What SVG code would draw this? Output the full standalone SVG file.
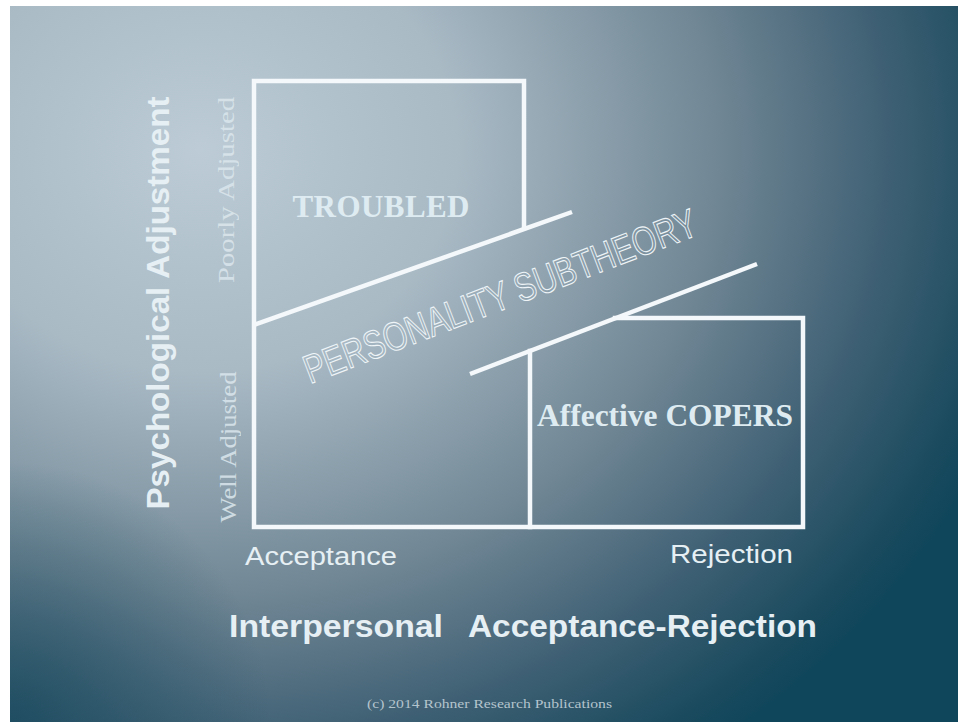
<svg xmlns="http://www.w3.org/2000/svg" width="958" height="723" viewBox="0 0 958 723">
<defs>
<radialGradient id="bg" gradientUnits="userSpaceOnUse" cx="200" cy="150" r="860" gradientTransform="translate(200 150) scale(1 0.86) translate(-200 -150)">
<stop offset="0" stop-color="#bccbd5"/>
<stop offset="0.3" stop-color="#a9bac5"/>
<stop offset="0.6" stop-color="#718795"/>
<stop offset="0.8" stop-color="#3f6074"/>
<stop offset="0.95" stop-color="#1a4a5e"/>
<stop offset="1" stop-color="#10465b"/>
</radialGradient>
<radialGradient id="bl" gradientUnits="userSpaceOnUse" cx="10" cy="722" r="260">
<stop offset="0" stop-color="#15475c" stop-opacity="0.75"/>
<stop offset="1" stop-color="#15475c" stop-opacity="0"/>
</radialGradient>
<style>
.ln{stroke:#f4f8fa;stroke-width:4.5;fill:none;stroke-linecap:square;stroke-linejoin:miter}
.lbl{font-family:"Liberation Serif",serif;font-weight:bold;fill:#deecf2}
.axis{font-family:"Liberation Sans",Arial,sans-serif;font-weight:bold;fill:#e6f0f4}
.end{font-family:"Liberation Sans",Arial,sans-serif;fill:#e6f0f4}
.side{font-family:"Liberation Serif",serif;fill:#dbe6ec;opacity:0.85}
</style>
</defs>
<rect x="0" y="0" width="958" height="723" fill="#ffffff"/>
<rect x="10" y="6" width="948" height="716" fill="url(#bg)"/>
<rect x="10" y="6" width="948" height="716" fill="url(#bl)"/>

<g id="connectors">
<polyline class="ln" points="524,228 524,81 254,81 254,527 803,527 803,318 615,318"/>
<line class="ln" x1="530" y1="527" x2="530" y2="351"/>
<line class="ln" x1="254" y1="325" x2="572" y2="212" style="stroke-linecap:butt"/>
<line class="ln" x1="470" y1="374" x2="757" y2="264" style="stroke-linecap:butt"/>
</g>

<g id="troubled">
<text class="lbl" x="381" y="217" font-size="31" text-anchor="middle" textLength="177">TROUBLED</text>
</g>
<g id="copers">
<text class="lbl" x="665" y="426" font-size="31" text-anchor="middle" textLength="256" lengthAdjust="spacingAndGlyphs">Affective COPERS</text>
</g>
<g id="subtheory">
<text x="505" y="309" font-family="'Liberation Sans',Arial,sans-serif" font-size="40" text-anchor="middle" textLength="418" lengthAdjust="spacingAndGlyphs" fill="none" stroke="#eef4f7" stroke-width="1.1" transform="rotate(-21 505 309)">PERSONALITY SUBTHEORY</text>
</g>
<g id="y-axis">
<text class="axis" x="0" y="0" font-size="31" text-anchor="middle" textLength="413" lengthAdjust="spacingAndGlyphs" transform="translate(169 303) rotate(-90)">Psychological Adjustment</text>
<text class="side" x="0" y="0" font-size="24" text-anchor="middle" textLength="186" lengthAdjust="spacingAndGlyphs" transform="translate(234 190) rotate(-90)">Poorly Adjusted</text>
<text class="side" x="0" y="0" font-size="24" text-anchor="middle" textLength="151" lengthAdjust="spacingAndGlyphs" transform="translate(236 447) rotate(-90)">Well Adjusted</text>
</g>
<g id="x-axis">
<text class="end" x="245" y="565" font-size="25" textLength="152" lengthAdjust="spacingAndGlyphs">Acceptance</text>
<text class="end" x="670" y="563" font-size="25" textLength="123" lengthAdjust="spacingAndGlyphs">Rejection</text>
<text class="axis" y="637" font-size="31"><tspan x="229" textLength="214" lengthAdjust="spacingAndGlyphs">Interpersonal</tspan><tspan x="468" textLength="349" lengthAdjust="spacingAndGlyphs">Acceptance-Rejection</tspan></text>
</g>
<g id="copyright">
<text x="367" y="708" font-family="'Liberation Serif',serif" font-size="12.5" fill="#b4c4cd" textLength="245" lengthAdjust="spacingAndGlyphs">(c) 2014 Rohner Research Publications</text>
</g>
</svg>
